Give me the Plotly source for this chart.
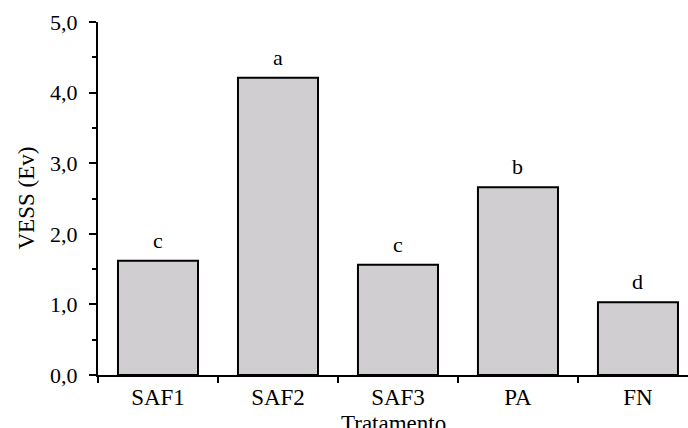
import plotly.graph_objects as go

categories = ["SAF1", "SAF2", "SAF3", "PA", "FN"]
vess_values = [1.62, 4.21, 1.56, 2.66, 1.03]
letters = ["c", "a", "c", "b", "d"]
y_tick_values = [0, 1, 2, 3, 4, 5]
y_tick_labels = ["0,0", "1,0", "2,0", "3,0", "4,0", "5,0"]

FONT = "Liberation Serif, Times New Roman, serif"

fig = go.Figure()
fig.add_trace(go.Bar(
    x=categories, y=vess_values,
    marker=dict(color="#d0ced0", line=dict(color="black", width=2)),
    width=0.667,
    showlegend=False,
))

for c, v, t in zip(categories, vess_values, letters):
    fig.add_annotation(x=c, y=v, text=t, showarrow=False, yanchor="bottom",
                       yshift=6, font=dict(family=FONT, size=22, color="black"))

fig.add_annotation(x=0.5, y=-0.095, xref="paper", yref="paper", text="Tratamento",
                   showarrow=False, xanchor="center", yanchor="top",
                   font=dict(family=FONT, size=23, color="black"))
fig.add_annotation(x=-0.122, y=0.5, xref="paper", yref="paper", text="VESS (Ev)",
                   showarrow=False, xanchor="center", yanchor="middle", textangle=-90,
                   font=dict(family=FONT, size=23, color="black"))

fig.update_layout(
    template="none",
    width=688, height=428,
    margin=dict(l=98, r=0, t=22, b=53, autoexpand=False),
    paper_bgcolor="white", plot_bgcolor="white",
    font=dict(family=FONT, size=22, color="black"),
)
fig.update_xaxes(
    range=[-0.5, 4.417], showline=True, linecolor="black", linewidth=2,
    ticks="outside", tickson="boundaries", ticklen=6, tickwidth=2, tickcolor="black",
    showgrid=False, zeroline=False, automargin=False,
    tickfont=dict(family=FONT, size=23, color="black"),
)
fig.update_yaxes(
    range=[0, 5], showline=True, linecolor="black", linewidth=2,
    tickvals=y_tick_values, ticktext=y_tick_labels,
    ticks="outside", ticklen=7, tickwidth=2, tickcolor="black",
    minor=dict(dtick=0.5, ticks="outside", ticklen=4, tickwidth=2, tickcolor="black", showgrid=False),
    showgrid=False, zeroline=False, ticklabelstandoff=7, automargin=False,
    tickfont=dict(family=FONT, size=22, color="black"),
)

fig.write_html(
    "out.html",
    config={"displayModeBar": False},
    post_script="document.body.style.margin='0';document.body.style.overflow='hidden';",
)
